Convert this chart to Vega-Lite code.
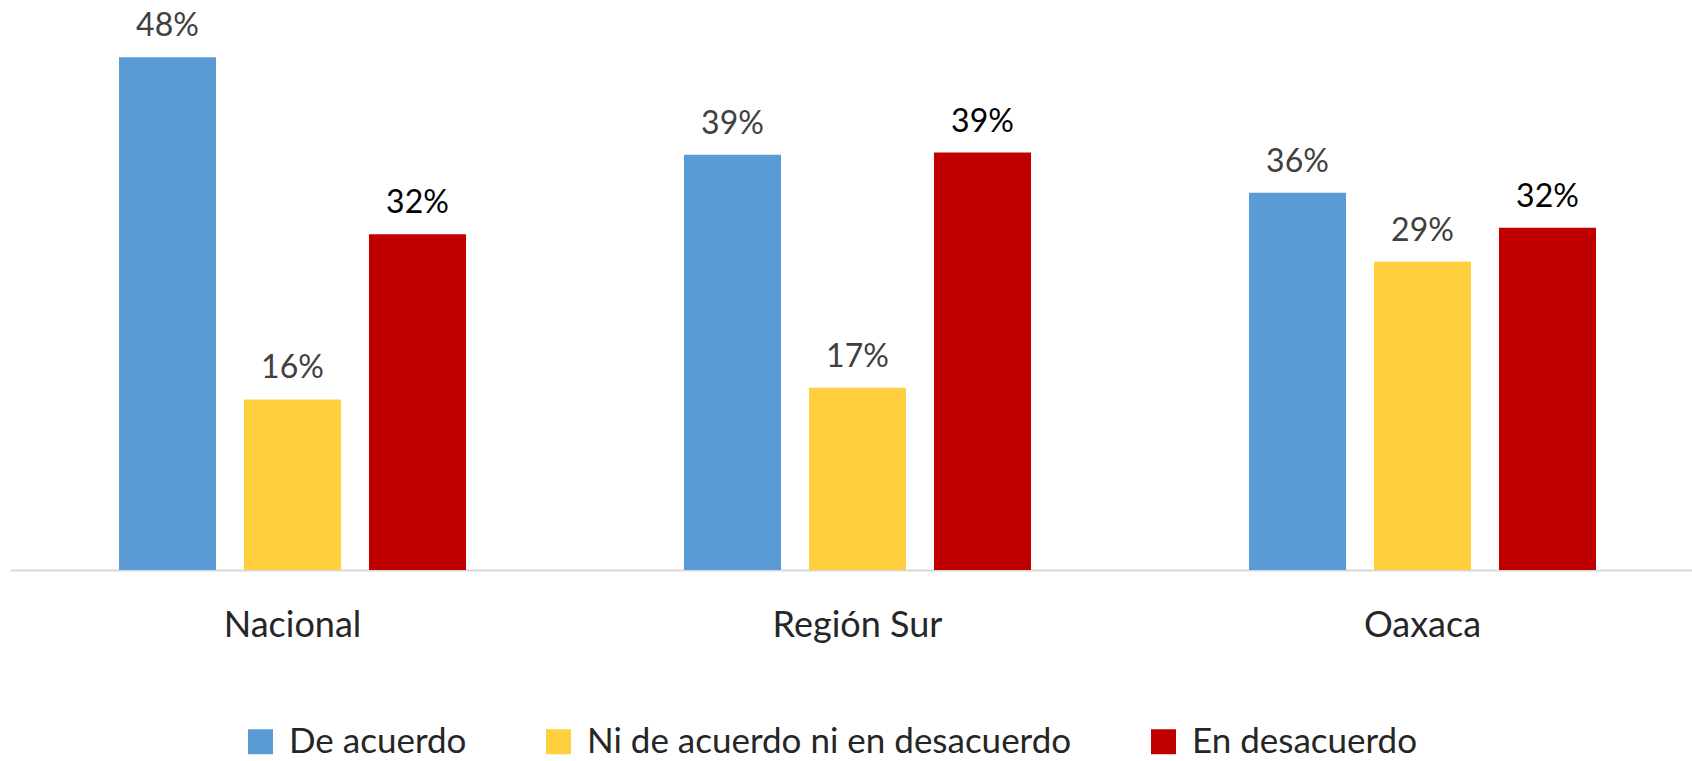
{
  "$schema": "https://vega.github.io/schema/vega-lite/v6.json",
  "width": 1695,
  "height": 570,
  "padding": {"left": 10, "top": 0, "right": 0, "bottom": 0},
  "background": "white",
  "config": {"view": {"stroke": null}, "font": "Lato"},
  "data": {
    "values": [
      {"region": "Nacional", "serie": "De acuerdo", "pct": 0.484},
      {"region": "Nacional", "serie": "Ni de acuerdo ni en desacuerdo", "pct": 0.161},
      {"region": "Nacional", "serie": "En desacuerdo", "pct": 0.317},
      {"region": "Región Sur", "serie": "De acuerdo", "pct": 0.392},
      {"region": "Región Sur", "serie": "Ni de acuerdo ni en desacuerdo", "pct": 0.172},
      {"region": "Región Sur", "serie": "En desacuerdo", "pct": 0.394},
      {"region": "Oaxaca", "serie": "De acuerdo", "pct": 0.356},
      {"region": "Oaxaca", "serie": "Ni de acuerdo ni en desacuerdo", "pct": 0.291},
      {"region": "Oaxaca", "serie": "En desacuerdo", "pct": 0.323}
    ]
  },
  "encoding": {
    "x": {
      "field": "region", "type": "nominal",
      "sort": ["Nacional", "Región Sur", "Oaxaca"],
      "scale": {"paddingInner": 0, "paddingOuter": 0},
      "axis": {"title": null, "labelAngle": 0, "labelFontSize": 36, "labelColor": "#262626", "labelPadding": 38, "ticks": false, "domainColor": "#D9D9D9", "domainWidth": 2, "grid": false, "labelLimit": 0}
    },
    "xOffset": {
      "field": "serie", "type": "nominal",
      "sort": ["De acuerdo", "Ni de acuerdo ni en desacuerdo", "En desacuerdo"],
      "scale": {"paddingInner": 0.224, "paddingOuter": 0.872}
    },
    "y": {"field": "pct", "type": "quantitative", "scale": {"domain": [0, 0.538]}, "axis": null}
  },
  "layer": [
    {
      "mark": {"type": "bar"},
      "encoding": {
        "color": {
          "field": "serie", "type": "nominal",
          "sort": ["De acuerdo", "Ni de acuerdo ni en desacuerdo", "En desacuerdo"],
          "scale": {"domain": ["De acuerdo", "Ni de acuerdo ni en desacuerdo", "En desacuerdo"], "range": ["#5B9BD5", "#FFCF3D", "#C00000"]},
          "legend": {"orient": "none", "legendX": 233, "legendY": 724, "direction": "horizontal", "title": null, "symbolType": "square", "symbolSize": 625, "labelFontSize": 35, "labelColor": "#262626", "columnPadding": 74, "labelOffset": 11, "symbolStrokeWidth": 0, "padding": 0, "labelLimit": 0}
        }
      }
    },
    {
      "mark": {"type": "text", "baseline": "alphabetic", "dy": -21, "fontSize": 32},
      "encoding": {
        "text": {"field": "pct", "type": "quantitative", "format": ".0%"},
        "color": {"condition": {"test": "datum.serie === 'En desacuerdo'", "value": "#000000"}, "value": "#404040"}
      }
    }
  ]
}
